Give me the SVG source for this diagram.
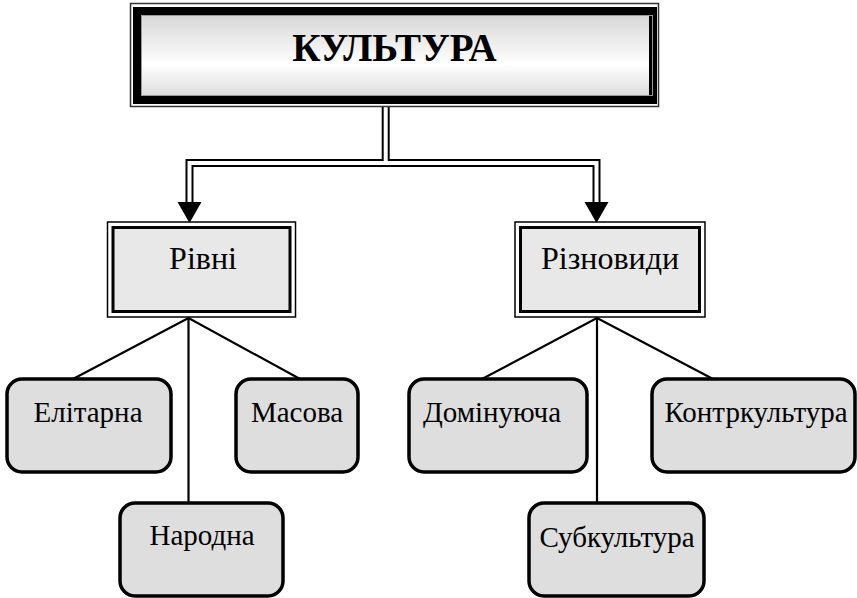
<svg xmlns="http://www.w3.org/2000/svg" width="857" height="598" viewBox="0 0 857 598" font-family="'Liberation Serif', 'DejaVu Serif', serif">
<defs>
<linearGradient id="g" x1="0" y1="0" x2="0" y2="1">
<stop offset="0" stop-color="#d4d4d4"/>
<stop offset="0.6" stop-color="#ffffff"/>
<stop offset="1" stop-color="#d8d8d8"/>
</linearGradient>
</defs>
<style>
text{font-family:'Liberation Serif','DejaVu Serif',serif;fill:#000;text-anchor:middle}
.lbl{font-size:29px}
.mid{font-size:32px}
.leaf{fill:#dedede;stroke:#000;stroke-width:3.5}
.ln{stroke:#000;stroke-width:2.2;fill:none}
.dbk{stroke:#000;stroke-width:8;fill:none}
.dwh{stroke:#fff;stroke-width:4;fill:none}
</style>
<rect width="857" height="598" fill="#fff"/>

<g id="connectors">
<path class="dbk" d="M385.7,107 V163 M189.5,202 V163 H596.5 V202"/>
<path class="dwh" d="M385.7,104 V163 M189.5,204 V163 H596.5 V204"/>
<polygon points="177.5,202 201.5,202 189.5,223" fill="#000"/>
<polygon points="584.5,202 608.5,202 596.5,223" fill="#000"/>
<path class="ln" d="M73,379 L188.5,318 L300,379 M188.5,318 V503"/>
<path class="ln" d="M482,379 L597,318 L713,379 M597,318 V503"/>
</g>

<g id="kultura">
<rect x="130.5" y="3.5" width="528" height="103" fill="#fff" stroke="#333" stroke-width="1.5"/>
<rect x="137" y="11" width="516" height="89" fill="url(#g)" stroke="#000" stroke-width="8"/>
<rect x="141.5" y="15.5" width="511" height="80" fill="none" stroke="#999" stroke-width="1"/>
<text x="394.5" y="61" font-size="39" font-weight="bold">КУЛЬТУРА</text>
</g>

<g id="rivni">
<rect x="107.5" y="222" width="188" height="95" fill="#fff" stroke="#000" stroke-width="1.5"/>
<rect x="113" y="227.5" width="177" height="84" fill="#e8e8e8" stroke="#000" stroke-width="3"/>
<text class="mid" x="203" y="269">Рівні</text>
</g>

<g id="riznovydy">
<rect x="515" y="222" width="190" height="95" fill="#fff" stroke="#000" stroke-width="1.5"/>
<rect x="520.5" y="227.5" width="179" height="84" fill="#e8e8e8" stroke="#000" stroke-width="3"/>
<text class="mid" x="610" y="269">Різновиди</text>
</g>

<g id="elitarna">
<rect class="leaf" x="7" y="379" width="164" height="93" rx="15"/>
<text class="lbl" x="88" y="422">Елітарна</text>
</g>

<g id="masova">
<rect class="leaf" x="236" y="379" width="122" height="93" rx="15"/>
<text class="lbl" x="297" y="422">Масова</text>
</g>

<g id="narodna">
<rect class="leaf" x="120" y="503" width="163" height="93" rx="15"/>
<text class="lbl" x="202" y="545">Народна</text>
</g>

<g id="dominuyucha">
<rect class="leaf" x="409" y="379" width="178" height="93" rx="15"/>
<text class="lbl" x="492" y="422">Домінуюча</text>
</g>

<g id="kontrkultura">
<rect class="leaf" x="652" y="379" width="203" height="93" rx="15"/>
<text class="lbl" x="756" y="422">Контркультура</text>
</g>

<g id="subkultura">
<rect class="leaf" x="529" y="503" width="175" height="93" rx="15"/>
<text class="lbl" x="617" y="547">Субкультура</text>
</g>
</svg>
